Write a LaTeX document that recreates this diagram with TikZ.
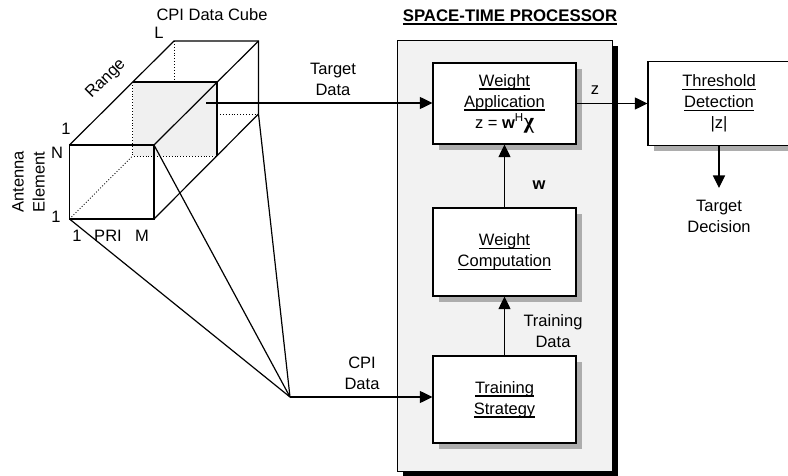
\documentclass[tikz,border=0pt]{standalone}
\usepackage{fontspec}
\setmainfont{Liberation Sans}
\newfontfamily\chifont{Liberation Serif}
\usetikzlibrary{arrows.meta,shadows}
\newcommand\ulx[1]{\setbox0\hbox{#1}\rlap{\rule[-3.4pt]{\wd0}{1.2pt}}\box0}
\tikzset{
  bx/.style={draw, fill=white, line width=1.2pt, inner sep=0pt,
    drop shadow={shadow xshift=6pt, shadow yshift=-6pt, fill=black!32, opacity=1}},
  proc/.style={draw, fill=black!5, line width=0.8pt, inner sep=0pt,
    drop shadow={shadow xshift=6pt, shadow yshift=-6pt, fill=black, opacity=1}},
  ln/.style={line width=1.2pt},
  dl/.style={line width=0.9pt, dotted},
  arr/.style={line width=1.2pt, -{Triangle[length=12.5pt,width=12pt]}},
  lbl/.style={align=center, inner sep=0pt}
}
\begin{document}
\begin{tikzpicture}[x=1pt,y=-1pt,font=\fontsize{16.5}{21}\selectfont]
\clip (0,0) rectangle (788,476);
\useasboundingbox (0,0) rectangle (788,476);
% processor
\node[proc, minimum width=215pt, minimum height=431pt] (P) at (504.5,255.5) {};
\node[lbl, font=\fontsize{16.8}{21}\selectfont\bfseries] (title) at (510,17) {\ulx{SPACE-TIME PROCESSOR}};
% boxes
\node[bx, lbl, minimum width=143pt, minimum height=81pt] (WA) at (504.5,103.5)
  {\ulx{Weight}\\ \ulx{Application}\\ z = \textbf{w}\textsuperscript{H}{\chifont\bfseries\fontsize{22}{21}\selectfont χ}};
\node[bx, lbl, minimum width=143pt, minimum height=88pt] (WC) at (504.5,252)
  {\ulx{Weight}\\ \ulx{Computation}};
\node[bx, lbl, minimum width=143pt, minimum height=87pt] (TS) at (504.5,399.5)
  {\ulx{Training}\\ \ulx{Strategy}};
\node[bx, lbl, minimum width=142pt, minimum height=84pt] (TD) at (719,103.5)
  {\ulx{Threshold}\\ \ulx{Detection}\\ |z|};
% cube
\coordinate (FTL) at (69.5,145);
\coordinate (FTR) at (154,145);
\coordinate (FBR) at (154,219);
\coordinate (FBL) at (69.5,219);
\coordinate (BTL) at (174,41);
\coordinate (BTR) at (258.5,41);
\coordinate (BBR) at (258.5,114);
\coordinate (STL) at (132.5,82);
\coordinate (STR) at (217,82);
\coordinate (SBR) at (217,156);
\coordinate (SBL) at (132.5,156);
\coordinate (apex) at (290,397);
\coordinate (tgt) at (206,103);
\fill[black!6] (STL) rectangle (SBR);
\draw[dl] (STL) -- (SBL) -- (SBR);
\draw[dl] (FBL) -- (SBL);
\draw[dl] (BTL) -- (BTL |- STL);
\draw[dl] (SBR |- BBR) -- (BBR);
\draw[ln] (STL) -- (STR) -- (SBR);
\draw[ln] (FTL) rectangle (FBR);
\draw[ln] (FTL) -- (BTL) -- (BTR) -- (BBR);
\draw[ln] (FTR) -- (BTR);
\draw[ln] (FBR) -- (BBR);
\draw[ln] (FBL) -- (apex);
\draw[ln] (FTR) -- (apex);
\draw[ln] (BBR) -- (apex);
% cube labels
\node[lbl] (cubet) at (212,15) {CPI Data Cube};
\node[lbl] (lL) at (159,33) {L};
\node[lbl, rotate=45] (lR) at (106,79) {Range};
\node[lbl] (l1a) at (66,129) {1};
\node[lbl] (lN) at (57,153) {N};
\node[lbl] (l1b) at (56,217) {1};
\node[lbl] (l1c) at (77,236) {1};
\node[lbl] (lP) at (108,236) {PRI};
\node[lbl] (lM) at (142,236) {M};
\node[lbl, rotate=90] (lA) at (28.5,182) {Antenna\\Element};
% connectors
\draw[arr] (tgt) -- (tgt -| WA.west);
\node[lbl] (tdl) at (333,79) {Target\\Data};
\draw[arr] (apex) -- (apex -| TS.west);
\node[lbl] (cpl) at (362,373.5) {CPI\\Data};
\draw[arr] (TS.north) -- (WC.south);
\node[lbl] (trl) at (553,331) {Training\\Data};
\draw[arr] (WC.north) -- (WA.south);
\node[lbl] (wl) at (539,185) {\textbf{w}};
\draw[arr] (WA.east) -- (TD.west);
\node[lbl] (zl) at (595,90) {z};
\coordinate (dec) at (719,188);
\draw[arr] (TD.south) -- (dec);
\node[lbl] (decl) at (719,216.5) {Target\\Decision};
\end{tikzpicture}
\end{document}
